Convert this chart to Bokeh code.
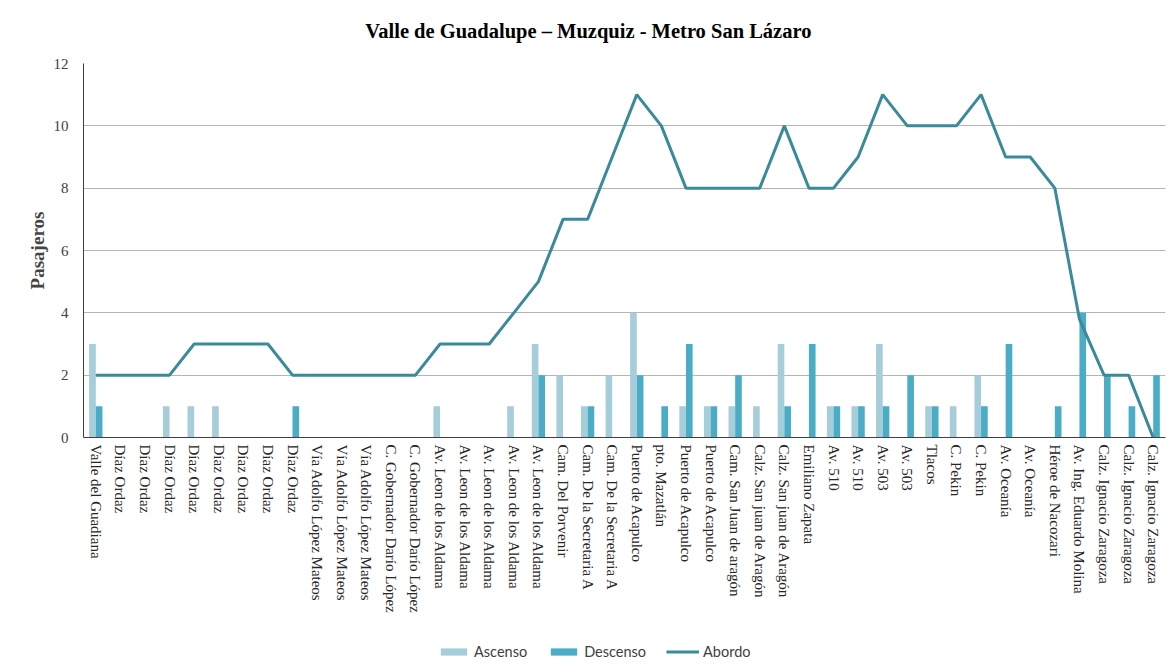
from bokeh.plotting import figure
from bokeh.layouts import column
from bokeh.models import Range1d, FixedTicker, Legend, LegendItem, ColumnDataSource, Label
from bokeh.embed import file_html
from bokeh.resources import INLINE

titulo = "Valle de Guadalupe  – Muzquiz  - Metro San Lázaro"

paradas = ["Valle del Guadiana", "Díaz Ordaz", "Díaz Ordaz", "Díaz Ordaz", "Díaz Ordaz",
           "Díaz Ordaz", "Díaz Ordaz", "Díaz Ordaz", "Díaz Ordaz",
           "Vía Adolfo López Mateos", "Vía Adolfo López Mateos", "Vía Adolfo López Mateos",
           "C. Gobernador Darío López", "C. Gobernador Darío López",
           "Av. Leon de los Aldama", "Av. Leon de los Aldama", "Av. Leon de los Aldama",
           "Av. Leon de los Aldama", "Av. Leon de los Aldama", "Cam. Del Porvenir",
           "Cam. De la Secretaria A", "Cam. De la Secretaria A", "Puerto de Acapulco",
           "pto. Mazatlán", "Puerto de Acapulco", "Puerto de Acapulco",
           "Cam. San Juan de aragón", "Calz. San juan de Aragón", "Calz. San juan de Aragón",
           "Emiliano Zapata", "Av. 510", "Av. 510", "Av. 503", "Av. 503", "Tlacos",
           "C. Pekin", "C. Pekin", "Av. Oceanía", "Av. Oceanía", "Héroe de Nacozari",
           "Av. Ing. Eduardo Molina", "Calz. Ignacio Zaragoza", "Calz. Ignacio Zaragoza",
           "Calz. Ignacio Zaragoza"]

ascenso = [3, 0, 0, 1, 1, 1, 0, 0, 0, 0, 0, 0, 0, 0, 1, 0, 0, 1, 3, 2, 1, 2, 4, 0, 1, 1,
           1, 1, 3, 0, 1, 1, 3, 0, 1, 1, 2, 0, 0, 0, 0, 0, 0, 0]
descenso = [1, 0, 0, 0, 0, 0, 0, 0, 1, 0, 0, 0, 0, 0, 0, 0, 0, 0, 2, 0, 1, 0, 2, 1, 3, 1,
            2, 0, 1, 3, 1, 1, 1, 2, 1, 0, 1, 3, 0, 1, 4, 2, 1, 2]
abordo = [2, 2, 2, 2, 3, 3, 3, 3, 2, 2, 2, 2, 2, 2, 3, 3, 3, 4, 5, 7, 7, 9, 11, 10, 8, 8,
          8, 8, 10, 8, 8, 9, 11, 10, 10, 10, 11, 9, 9, 8, 3.8, 2, 2, 0]
y_ticks = [0, 2, 4, 6, 8, 10, 12]

idx = list(range(1, len(paradas) + 1))
bw = 0.27
src = ColumnDataSource(dict(
    x=idx,
    xa=[i - bw / 2 for i in idx],
    xd=[i + bw / 2 for i in idx],
    asc=ascenso, desc=descenso, abo=abordo,
))

SERIF = "Liberation Serif"
C_ASC, C_DESC, C_LINE = "#A6CDDA", "#4AACC5", "#3A8A9B"
W = 1171
FL, FR = 83, 1165   # frame edges (pixels) shared by the aligned column

# title strip (its frame is aligned with the chart frame by the column layout)
pt = figure(width=W, height=50, output_backend="svg", toolbar_location=None,
            x_range=Range1d(FL, FR), y_range=Range1d(0, 50),
            x_axis_location=None, y_axis_location=None,
            min_border_left=0, min_border_right=0, min_border_top=0, min_border_bottom=0)
pt.grid.visible = False
pt.outline_line_color = None
pt.add_layout(Label(x=593, y=20, text=titulo, text_align="center", text_baseline="middle",
                    text_font=SERIF, text_font_size="20.5px", text_font_style="bold",
                    text_color="#000000"))

p = figure(frame_width=FR - FL, frame_height=374, output_backend="svg", toolbar_location=None,
           x_range=Range1d(0.5, len(paradas) + 0.5), y_range=Range1d(0, 12),
           min_border_left=FL, min_border_right=W - FR, min_border_top=13, min_border_bottom=180)
p.outline_line_color = None
p.background_fill_color = "white"
p.border_fill_color = "white"

r_a = p.vbar(x="xa", top="asc", width=bw, source=src, color=C_ASC, line_color=None)
r_d = p.vbar(x="xd", top="desc", width=bw, source=src, color=C_DESC, line_color=None)
r_l = p.line(x="x", y="abo", source=src, line_color=C_LINE, line_width=3)

p.xgrid.visible = False
p.ygrid.grid_line_color = "#b5b5b5"
p.ygrid.ticker = FixedTicker(ticks=y_ticks)

p.yaxis.ticker = FixedTicker(ticks=y_ticks)
p.yaxis.axis_label = "Pasajeros"
p.yaxis.axis_label_text_font = SERIF
p.yaxis.axis_label_text_font_style = "bold"
p.yaxis.axis_label_text_font_size = "19px"
p.yaxis.axis_label_standoff = 3
p.yaxis.major_label_text_font = SERIF
p.yaxis.major_label_text_font_size = "15px"
p.yaxis.major_label_text_color = "#404040"
p.yaxis.major_tick_line_color = None
p.yaxis.minor_tick_line_color = None
p.yaxis.axis_line_color = "#404040"
p.yaxis.major_label_standoff = 9

p.xaxis.ticker = FixedTicker(ticks=idx)
p.xaxis.major_label_overrides = {i: n for i, n in zip(idx, paradas)}
p.xaxis.major_label_orientation = "vertical"
p.xaxis.major_label_text_font = SERIF
p.xaxis.major_label_text_font_size = "15px"
p.xaxis.major_label_text_color = "#262626"
p.xaxis.major_tick_line_color = None
p.xaxis.minor_tick_line_color = None
p.xaxis.axis_line_color = "#404040"
p.xaxis.major_label_standoff = 1

# legend strip below the chart (its own renderers sit outside its visible range)
pl = figure(width=W, height=52, output_backend="svg", toolbar_location=None,
            x_range=Range1d(0, 1), y_range=Range1d(100, 101),
            x_axis_location=None, y_axis_location=None,
            min_border_left=0, min_border_right=0, min_border_top=0, min_border_bottom=0)
pl.grid.visible = False
pl.outline_line_color = None
l_a = pl.vbar(x="xa", top="asc", width=bw, source=src, color=C_ASC, line_color=None)
l_d = pl.vbar(x="xd", top="desc", width=bw, source=src, color=C_DESC, line_color=None)
l_l = pl.line(x="x", y="abo", source=src, line_color=C_LINE, line_width=3)

legend = Legend(items=[LegendItem(label="Ascenso", renderers=[l_a]),
                       LegendItem(label="Descenso", renderers=[l_d]),
                       LegendItem(label="Abordo", renderers=[l_l])],
                orientation="horizontal", location=(354, 9))
legend.label_text_font = "Lato"
legend.label_text_font_size = "14.5px"
legend.label_text_color = "#404040"
legend.glyph_width = 33
legend.glyph_height = 9
legend.label_standoff = 4
legend.spacing = 20
legend.padding = 0
legend.margin = 0
legend.border_line_color = None
legend.background_fill_alpha = 0
pl.add_layout(legend)

layout = column(pt, p, pl, spacing=0)
open("out.html", "w").write(file_html(layout, INLINE))
